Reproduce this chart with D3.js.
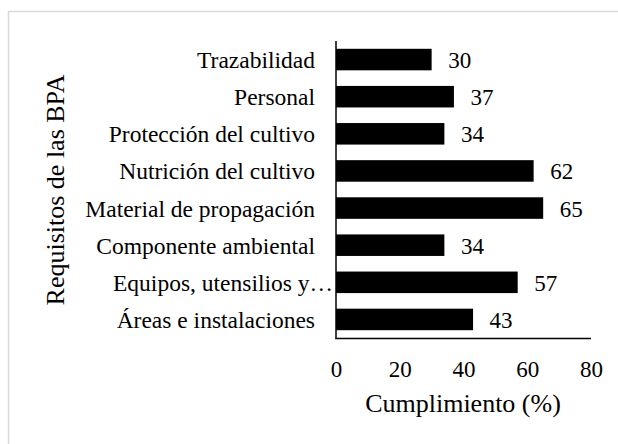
<!DOCTYPE html>
<html>
<head>
<meta charset="utf-8">
<script src="https://cdn.jsdelivr.net/npm/d3@7"></script>
<style>
  html, body { margin: 0; padding: 0; background: #fff; }
  svg { display: block; }
  svg text { font-family: "Liberation Serif", "Times New Roman", serif !important; fill: #000; }
</style>
</head>
<body>
<svg width="618" height="444"></svg>
<script>
// data, top to bottom as drawn
var categories = ["Trazabilidad", "Personal", "Protección del cultivo", "Nutrición del cultivo",
  "Material de propagación", "Componente ambiental", "Equipos, utensilios y…", "Áreas e instalaciones"];
var values = [30, 37, 34, 62, 65, 34, 57, 43];
var xTicks = [0, 20, 40, 60, 80];
var xTitle = "Cumplimiento (%)";
var yTitle = "Requisitos de las BPA";

function main() {
    var svg = d3.select("svg");

    // chart border (cropped at right and bottom)
    svg.append("rect")
        .attr("x", 8.5).attr("y", 11.5)
        .attr("width", 640).attr("height", 460)
        .attr("fill", "#fff")
        .attr("stroke", "#d9d9d9")
        .attr("stroke-width", 1.5);

    var x = d3.scaleLinear().domain([0, 80]).range([336, 591]);
    var y = d3.scaleBand()
        .domain(categories)
        .range([41, 338])
        .paddingInner(0.42)
        .paddingOuter(0.21);

    // bars
    svg.append("g")
        .selectAll("rect")
        .data(values)
        .enter().append("rect")
        .attr("x", x(0))
        .attr("y", function(d, i) { return y(categories[i]); })
        .attr("width", function(d) { return x(d) - x(0); })
        .attr("height", y.bandwidth())
        .attr("fill", "#000");

    // value labels
    svg.append("g")
        .selectAll("text")
        .data(values)
        .enter().append("text")
        .attr("x", function(d) { return x(d) + 16.5; })
        .attr("y", function(d, i) { return y(categories[i]) + y.bandwidth() / 2 + 8.5; })
        .attr("font-size", "23px")
        .text(function(d) { return d; });

    // y axis (category labels)
    var yAxis = svg.append("g")
        .attr("transform", "translate(" + x(0) + ",0)")
        .call(d3.axisLeft(y).tickSize(0).tickPadding(21));
    yAxis.select(".domain").remove();
    yAxis.selectAll("text")
        .attr("font-size", "23.5px")
        .attr("dy", "0.36em")
        .attr("dx", function(d) { return d.slice(-1) === "…" ? 18 : 0; });

    // x axis (ticks only, no tick marks)
    var xAxis = svg.append("g")
        .attr("transform", "translate(0,338)")
        .call(d3.axisBottom(x).tickValues(xTicks).tickSize(0).tickPadding(0));
    xAxis.select(".domain").remove();
    xAxis.selectAll("text")
        .attr("font-size", "23px")
        .attr("y", 38.5)
        .attr("dy", 0);

    // axis lines
    svg.append("line")
        .attr("x1", x(0)).attr("x2", x(0))
        .attr("y1", 41).attr("y2", 338.5)
        .attr("stroke", "#000").attr("stroke-width", 1.5);
    svg.append("line")
        .attr("x1", x(0) - 0.75).attr("x2", x(80))
        .attr("y1", 338.5).attr("y2", 338.5)
        .attr("stroke", "#000").attr("stroke-width", 1.5);

    // titles
    svg.append("text")
        .attr("x", 463).attr("y", 412)
        .attr("text-anchor", "middle")
        .attr("font-size", "26px")
        .text(xTitle);

    svg.append("text")
        .attr("transform", "translate(64,190) rotate(-90)")
        .attr("text-anchor", "middle")
        .attr("font-size", "26px")
        .text(yTitle);
}
main();
</script>
</body>
</html>
